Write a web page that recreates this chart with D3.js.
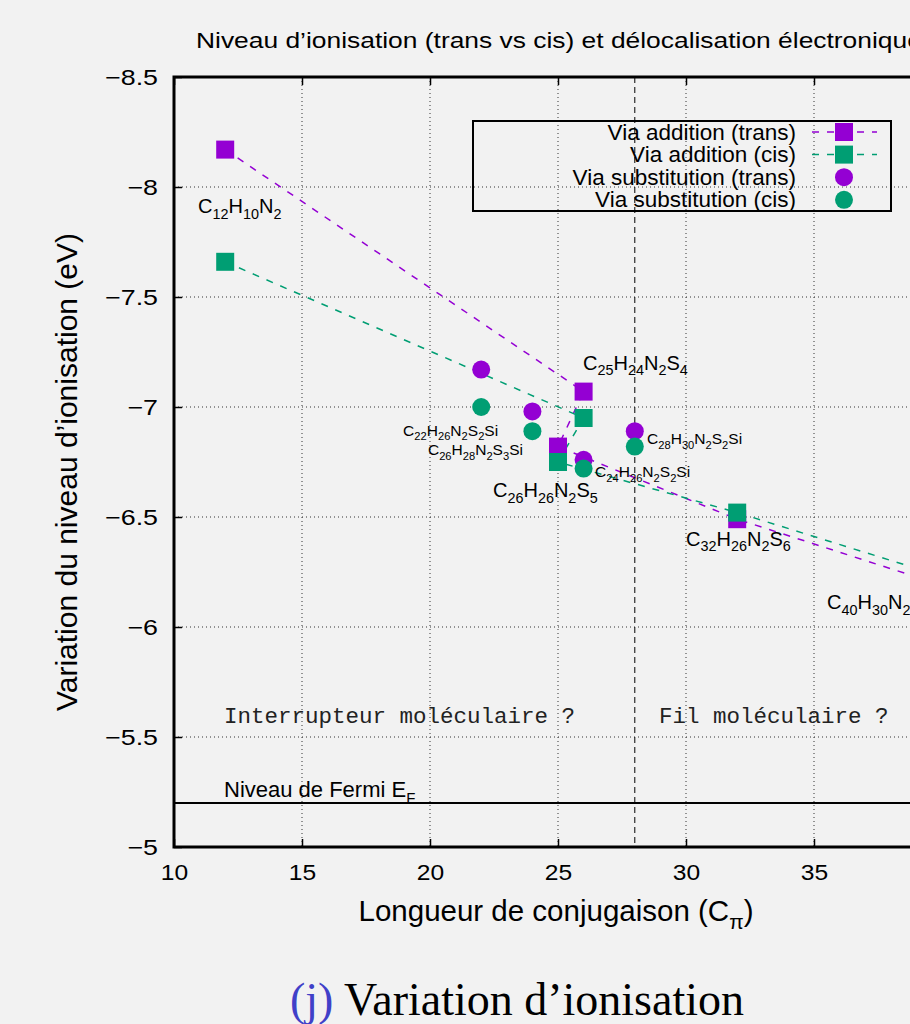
<!DOCTYPE html>
<html>
<head>
<meta charset="utf-8">
<script src="https://cdn.jsdelivr.net/npm/d3@7"></script>
<style>
html, body { margin: 0; padding: 0; background: #f2f2f2; overflow: hidden; width: 910px; height: 1024px; }
text { font-family: "Liberation Sans", Arial, sans-serif; fill: #000; }
</style>
</head>
<body>
<div id="chart"></div>
<script>
'use strict';

// series
var addTransX = [12, 26, 25, 32, 40];
var addTransY = [-8.17, -7.07, -6.82, -6.49, -6.19];
var addCisX = [12, 26, 25, 32, 40];
var addCisY = [-7.66, -6.95, -6.75, -6.52, -6.23];
var subTransX = [22, 24, 26, 28];
var subTransY = [-7.17, -6.98, -6.76, -6.89];
var subCisX = [22, 24, 26, 28];
var subCisY = [-7.00, -6.89, -6.72, -6.82];

var xTicks = [10, 15, 20, 25, 30, 35, 40];
var yTicks = [-8.5, -8, -7.5, -7, -6.5, -6, -5.5, -5];

var seriesNames = ['Via addition (trans)', 'Via addition (cis)', 'Via substitution (trans)', 'Via substitution (cis)'];

// molecule labels (anchored in data units, like gnuplot "set label at")
var molNames = ['C12H10N2', 'C25H24N2S4', 'C22H26N2S2Si', 'C26H28N2S3Si', 'C28H30N2S2Si',
                'C24H26N2S2Si', 'C26H26N2S5', 'C32H26N2S6', 'C40H30N2S7'];
var molX = [10.94, 25.98, 18.95, 19.92, 28.48, 26.45, 22.46, 30.0, 35.51];
var molY = [-7.88, -7.17, -6.87, -6.78, -6.83, -6.68, -6.59, -6.37, -6.08];
var molSmall = [false, false, true, true, true, true, false, false, false];

var fermiLevel = -5.2;
var splitX = 28;
var noteY = -5.565;

var titleText = 'Niveau d\u2019ionisation (trans vs cis) et d\u00e9localisation \u00e9lectronique';
var xLabel = 'Longueur de conjugaison (C';
var yLabel = 'Variation du niveau d\u2019ionisation (eV)';

var myApp = {};
myApp.purple = '#9400d3';
myApp.green = '#009e73';
myApp.m = {left: 174, top: 77};
myApp.w = 768;   // plot runs past the right edge of the photo
myApp.h = 770;

myApp.svg = d3.select('#chart').append('svg')
    .attr('width', 1000)
    .attr('height', 1024);

var x = d3.scaleLinear().domain([10, 40]).range([0, myApp.w]);
var y = d3.scaleLinear().domain([-8.5, -5]).range([0, myApp.h]);

var g = myApp.svg.append('g')
    .attr('transform', 'translate(' + myApp.m.left + ',' + myApp.m.top + ')');

// grid
g.append('g').selectAll('line').data(xTicks.slice(1, -1)).enter().append('line')
    .attr('x1', function(d){ return x(d); }).attr('x2', function(d){ return x(d); })
    .attr('y1', 0).attr('y2', myApp.h)
    .style('stroke', '#333').style('stroke-width', 1).style('stroke-dasharray', '1,3');
g.append('g').selectAll('line').data(yTicks.slice(1, -1)).enter().append('line')
    .attr('x1', 0).attr('x2', myApp.w)
    .attr('y1', function(d){ return y(d); }).attr('y2', function(d){ return y(d); })
    .style('stroke', '#333').style('stroke-width', 1).style('stroke-dasharray', '1,3');

// split between the two regimes
g.append('line')
    .attr('x1', x(splitX)).attr('x2', x(splitX)).attr('y1', 0).attr('y2', myApp.h)
    .style('stroke', '#000').style('stroke-width', 1).style('stroke-dasharray', '6,4');

// Fermi level
g.append('line')
    .attr('x1', 0).attr('x2', myApp.w).attr('y1', y(fermiLevel)).attr('y2', y(fermiLevel))
    .style('stroke', '#000').style('stroke-width', 2);

// axes, ticks pointing inside like gnuplot
var fmt = d3.format('~g');
var axB = g.append('g').attr('transform', 'translate(0,' + myApp.h + ')')
    .call(d3.axisBottom(x).tickValues(xTicks).tickSize(-8).tickPadding(17).tickFormat(fmt));
var axL = g.append('g')
    .call(d3.axisLeft(y).tickValues(yTicks).tickSize(-8).tickPadding(16).tickFormat(fmt));
g.append('g').call(d3.axisTop(x).tickValues(xTicks).tickSize(-8).tickFormat(''));
g.append('g').attr('transform', 'translate(' + myApp.w + ',0)')
    .call(d3.axisRight(y).tickValues(yTicks).tickSize(-8).tickFormat(''));
g.selectAll('.domain').remove();
g.selectAll('.tick line').style('stroke', '#000').style('stroke-width', 1.5);
[axB, axL].forEach(function(a){
    a.selectAll('text')
        .style('font-family', '"Liberation Sans", Arial, sans-serif')
        .style('font-size', '22px').style('fill', '#000');
});
// gnuplot glyphs come out a little wider
axB.selectAll('text').attr('transform', 'scale(1.12,1)');
axL.selectAll('text').attr('x', -16 / 1.22).attr('transform', 'scale(1.22,1)');

// frame
g.append('rect').attr('x', 0).attr('y', 0).attr('width', myApp.w).attr('height', myApp.h)
    .style('fill', 'none').style('stroke', '#000').style('stroke-width', 3);

// lines
function zip(xs, ys){ return xs.map(function(v, i){ return [v, ys[i]]; }); }
var line = d3.line().x(function(d){ return x(d[0]); }).y(function(d){ return y(d[1]); });

g.append('path').datum(zip(addTransX, addTransY)).attr('d', line)
    .style('fill', 'none').style('stroke', myApp.purple).style('stroke-width', 1.5)
    .style('stroke-dasharray', '7,8');
g.append('path').datum(zip(addCisX, addCisY)).attr('d', line)
    .style('fill', 'none').style('stroke', myApp.green).style('stroke-width', 1.5)
    .style('stroke-dasharray', '7,8');

function squares(pts, col){
    g.append('g').selectAll('rect').data(pts).enter().append('rect')
        .attr('x', function(d){ return x(d[0]) - 9; })
        .attr('y', function(d){ return y(d[1]) - 9; })
        .attr('width', 18).attr('height', 18)
        .style('fill', col);
}
function circles(pts, col){
    g.append('g').selectAll('circle').data(pts).enter().append('circle')
        .attr('cx', function(d){ return x(d[0]); })
        .attr('cy', function(d){ return y(d[1]); })
        .attr('r', 9)
        .style('fill', col);
}
squares(zip(addTransX, addTransY), myApp.purple);
squares(zip(addCisX, addCisY), myApp.green);
circles(zip(subTransX, subTransY), myApp.purple);
circles(zip(subCisX, subCisY), myApp.green);

// chemical formula with subscripts
function formula(sel, str, size){
    var parts = str.match(/[A-Za-z]+|\d+/g);
    var sub = size * 0.72, shift = size * 0.28, down = false;
    parts.forEach(function(p){
        var isNum = /\d/.test(p);
        var t = sel.append('tspan').text(p);
        if (isNum) {
            t.style('font-size', sub + 'px');
            if (!down) { t.attr('dy', shift); down = true; }
        } else {
            t.style('font-size', size + 'px');
            if (down) { t.attr('dy', -shift); down = false; }
        }
    });
}

var labs = g.append('g');
molNames.forEach(function(n, i){
    var t = labs.append('text')
        .attr('x', x(molX[i])).attr('y', y(molY[i]));
    formula(t, n, molSmall[i] ? 15.5 : 20);
});

// annotations
g.append('text').attr('x', 50).attr('y', y(noteY))
    .style('font-family', '"Liberation Mono", "Courier New", monospace')
    .style('font-size', '22.5px').style('fill', '#222')
    .text('Interrupteur mol\u00e9culaire ?');
g.append('text').attr('x', 485).attr('y', y(noteY))
    .style('font-family', '"Liberation Mono", "Courier New", monospace')
    .style('font-size', '22.5px').style('fill', '#222')
    .text('Fil mol\u00e9culaire ?');
var ef = g.append('text').attr('x', 50).attr('y', y(fermiLevel) - 6).style('font-size', '22px');
ef.append('tspan').text('Niveau de Fermi E');
ef.append('tspan').attr('dy', 6).style('font-size', '15px').text('F');

// legend
var lg = g.append('g').attr('transform', 'translate(' + (473 - myApp.m.left) + ',' + (121 - myApp.m.top) + ')');
lg.append('rect').attr('width', 418).attr('height', 90)
    .style('fill', 'none').style('stroke', '#000').style('stroke-width', 2);
seriesNames.forEach(function(n, i){
    var cy = 11 + i * 22.6;
    var col = i % 2 === 0 ? myApp.purple : myApp.green;
    lg.append('text').attr('x', 323).attr('y', cy + 7.5).attr('text-anchor', 'end')
        .style('font-size', '22.5px').text(n);
    if (i < 2) {
        lg.append('line').attr('x1', 339).attr('x2', 404).attr('y1', cy).attr('y2', cy)
            .style('stroke', col).style('stroke-width', 1.5).style('stroke-dasharray', '7,8');
        lg.append('rect').attr('x', 362).attr('y', cy - 9).attr('width', 18).attr('height', 18)
            .style('fill', col);
    } else {
        lg.append('circle').attr('cx', 371).attr('cy', cy).attr('r', 9).style('fill', col);
    }
});

// titles
myApp.svg.append('text').attr('transform', 'translate(196,48) scale(1.2,1)')
    .style('font-size', '22px').text(titleText);
var xl = myApp.svg.append('text').attr('x', 556).attr('y', 921).attr('text-anchor', 'middle')
    .style('font-size', '29.5px');
xl.append('tspan').text(xLabel);
xl.append('tspan').attr('dy', 8).style('font-size', '21px').text('\u03c0');
xl.append('tspan').attr('dy', -8).text(')');
myApp.svg.append('text')
    .attr('transform', 'translate(77,472) rotate(-90)')
    .attr('text-anchor', 'middle')
    .style('font-size', '30px').text(yLabel);

// caption under the figure
var cap = myApp.svg.append('text').attr('x', 517).attr('y', 1015).attr('text-anchor', 'middle')
    .style('font-family', '"Liberation Serif", "Times New Roman", serif').style('font-size', '46px');
cap.append('tspan').style('fill', '#4040c8').text('(j)');
cap.append('tspan').text(' Variation d\u2019ionisation');
</script>
</body>
</html>
